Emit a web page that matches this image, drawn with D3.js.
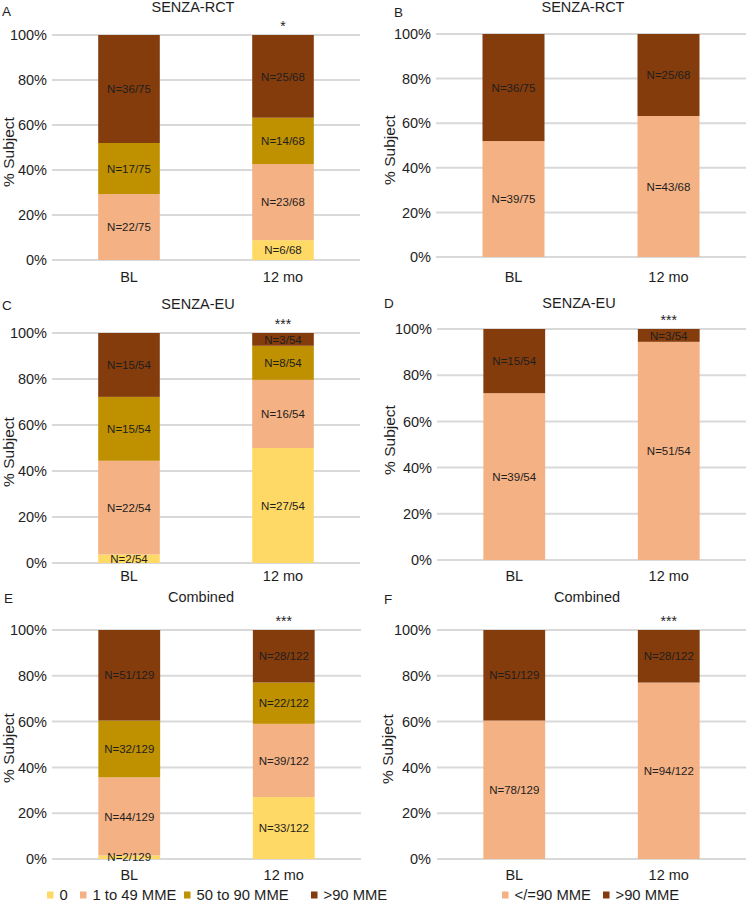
<!DOCTYPE html>
<html>
<head>
<meta charset="utf-8">
<script src="https://cdn.jsdelivr.net/npm/d3@7"></script>
<style>
  html, body { margin: 0; padding: 0; background: #fff; }
  svg { display: block; font-family: "Liberation Sans", Arial, Helvetica, sans-serif; }
</style>
</head>
<body>
<svg id="chart" width="748" height="904"></svg>
<script>
// ---------------- DATA ----------------
const timepoints = ["BL", "12 mo"];
const fourCategories = ["0", "1 to 49 MME", "50 to 90 MME", ">90 MME"];
const twoCategories = ["</=90 MME", ">90 MME"];
const yTickValues = [0, 20, 40, 60, 80, 100];

const totalsRCT = [75, 68];
const totalsEU = [54, 54];
const totalsCombined = [129, 122];

// counts per timepoint [BL, 12 mo], per category (bottom to top)
const countsA = [[0, 22, 17, 36], [6, 23, 14, 25]];
const countsB = [[39, 36], [43, 25]];
const countsC = [[2, 22, 15, 15], [27, 16, 8, 3]];
const countsD = [[39, 15], [51, 3]];
const countsE = [[2, 44, 32, 51], [33, 39, 22, 28]];
const countsF = [[78, 51], [94, 28]];

const significance = { A: "*", B: "", C: "***", D: "***", E: "***", F: "***" };
const panelTitles = { A: "SENZA-RCT", B: "SENZA-RCT", C: "SENZA-EU", D: "SENZA-EU", E: "Combined", F: "Combined" };

// ---------------- STYLE ----------------
const fourColors = ["#ffd966", "#f4b183", "#bf9000", "#843c0c"];
const twoColors = ["#f4b183", "#843c0c"];
const gridColor = "#d9d9d9";
const textColor = "#1e1e1e";

// ---------------- LAYOUT ----------------
const panels = [
  { id: "A", counts: countsA, totals: totalsRCT, colors: fourColors,
    gx0: 52, gx1: 360, y100: 35, y0: 260, tickRight: 47, ylabX: 8, ylabY: 152,
    titleX: 193, titleY: 7, letterX: 2, letterY: 11, xlabY: 277 },
  { id: "B", counts: countsB, totals: totalsRCT, colors: twoColors,
    gx0: 436, gx1: 746, y100: 34, y0: 257, tickRight: 431, ylabX: 389, ylabY: 150,
    titleX: 583, titleY: 7, letterX: 394, letterY: 12, xlabY: 277 },
  { id: "C", counts: countsC, totals: totalsEU, colors: fourColors,
    gx0: 52, gx1: 360, y100: 333, y0: 563, tickRight: 47, ylabX: 8, ylabY: 452,
    titleX: 198, titleY: 304, letterX: 2, letterY: 305, xlabY: 576 },
  { id: "D", counts: countsD, totals: totalsEU, colors: twoColors,
    gx0: 437, gx1: 746, y100: 329, y0: 560, tickRight: 432, ylabX: 389, ylabY: 440,
    titleX: 579, titleY: 303, letterX: 384, letterY: 303, xlabY: 576 },
  { id: "E", counts: countsE, totals: totalsCombined, colors: fourColors,
    gx0: 52, gx1: 361, y100: 630, y0: 859, tickRight: 47, ylabX: 8, ylabY: 748,
    titleX: 201, titleY: 597, letterX: 4, letterY: 598, xlabY: 875 },
  { id: "F", counts: countsF, totals: totalsCombined, colors: twoColors,
    gx0: 437, gx1: 746, y100: 630, y0: 859, tickRight: 431, ylabX: 387, ylabY: 749,
    titleX: 587, titleY: 597, letterX: 384, letterY: 599, xlabY: 875 }
];

const svg = d3.select("#chart");

panels.forEach(p => {
  const g = svg.append("g");
  const x = d3.scaleBand().domain(timepoints).range([p.gx0, p.gx1])
    .paddingInner(0.6).paddingOuter(0.3);
  const y = d3.scaleLinear().domain([0, 100]).range([p.y0, p.y100]);

  // gridlines
  g.selectAll("line.grid").data(yTickValues).join("line")
    .attr("x1", p.gx0).attr("x2", p.gx1)
    .attr("y1", d => y(d)).attr("y2", d => y(d))
    .attr("stroke", gridColor).attr("stroke-width", 2);

  // y tick labels via axis
  const yAxis = d3.axisLeft(y).tickValues(yTickValues).tickFormat(d => d + "%").tickSize(0).tickPadding(0);
  const ya = g.append("g").attr("transform", `translate(${p.tickRight},0)`).call(yAxis);
  ya.select(".domain").remove();
  ya.selectAll("text").attr("font-size", 14.5).attr("fill", textColor)
    .attr("font-family", "Liberation Sans, Arial, sans-serif");

  // stacked bars
  timepoints.forEach((tp, ti) => {
    const counts = p.counts[ti];
    const total = p.totals[ti];
    let cum = 0;
    counts.forEach((c, ci) => {
      const lo = cum / total * 100;
      const hi = (cum + c) / total * 100;
      cum += c;
      if (c === 0) return;
      g.append("rect")
        .attr("x", x(tp)).attr("width", x.bandwidth())
        .attr("y", y(hi)).attr("height", y(lo) - y(hi))
        .attr("fill", p.colors[ci]);
    });
    cum = 0;
    counts.forEach((c, ci) => {
      const lo = cum / total * 100;
      const hi = (cum + c) / total * 100;
      cum += c;
      if (c === 0) return;
      g.append("text")
        .attr("x", x(tp) + x.bandwidth() / 2)
        .attr("y", y((lo + hi) / 2))
        .attr("dy", "0.36em")
        .attr("text-anchor", "middle")
        .attr("font-size", 11.5).attr("fill", textColor)
        .text(`N=${c}/${total}`);
    });
  });

  // x labels
  const xAxis = d3.axisBottom(x).tickSize(0).tickPadding(0);
  const xa = g.append("g").attr("transform", `translate(0,${p.xlabY})`).call(xAxis);
  xa.select(".domain").remove();
  xa.selectAll("text").attr("font-size", 14.5).attr("fill", textColor)
    .attr("dy", "0.36em").attr("y", 0)
    .attr("font-family", "Liberation Sans, Arial, sans-serif");

  // significance
  if (significance[p.id]) {
    g.append("text")
      .attr("x", x(timepoints[1]) + x.bandwidth() / 2)
      .attr("y", p.y100 - 4.5)
      .attr("text-anchor", "middle").attr("font-size", 14).attr("fill", textColor)
      .text(significance[p.id]);
  }

  // y label
  g.append("text")
    .attr("transform", `translate(${p.ylabX},${p.ylabY}) rotate(-90)`)
    .attr("text-anchor", "middle").attr("dy", "0.36em")
    .attr("font-size", 15.5).attr("fill", textColor)
    .text("% Subject");

  // title
  g.append("text").attr("x", p.titleX).attr("y", p.titleY).attr("dy", "0.36em")
    .attr("text-anchor", "middle").attr("font-size", 14.5).attr("fill", textColor)
    .text(panelTitles[p.id]);

  // panel letter
  g.append("text").attr("x", p.letterX).attr("y", p.letterY).attr("dy", "0.36em")
    .attr("font-size", 13.5).attr("fill", textColor)
    .text(p.id);
});

// ---------------- LEGENDS ----------------
const legendY = 895;
const leftLegendX = [47, 80, 184, 311];
const rightLegendX = [502, 603];

function drawLegend(cats, colors, xs) {
  const lg = svg.append("g");
  cats.forEach((c, i) => {
    lg.append("rect").attr("x", xs[i]).attr("y", legendY - 3.5).attr("width", 6.5).attr("height", 7)
      .attr("fill", colors[i]);
    lg.append("text").attr("x", xs[i] + 12.5).attr("y", legendY).attr("dy", "0.36em")
      .attr("font-size", 14.8).attr("fill", textColor)
      .text(c);
  });
}
drawLegend(fourCategories, fourColors, leftLegendX);
drawLegend(twoCategories, twoColors, rightLegendX);
</script>
</body>
</html>
